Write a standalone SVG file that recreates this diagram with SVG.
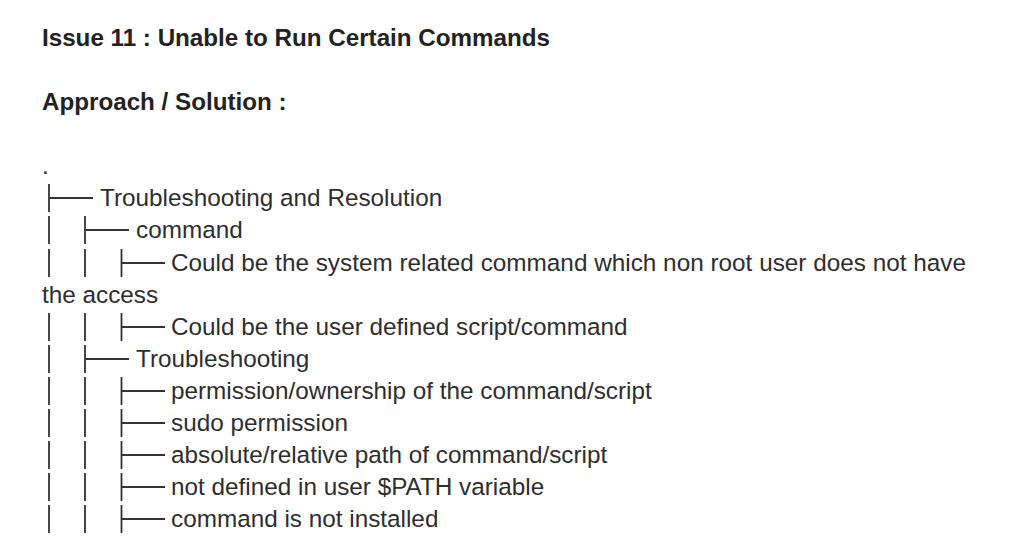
<svg xmlns="http://www.w3.org/2000/svg" width="1024" height="552" viewBox="0 0 1024 552">
<style>
.t{font-family:"Liberation Sans",Arial,sans-serif;font-size:24.3px;fill:#2e2e2e}
.h{font-family:"Liberation Sans",Arial,sans-serif;font-size:24.2px;font-weight:bold;fill:#222}
.c line{stroke:#333;stroke-width:1.8}
</style>
<rect width="1024" height="552" fill="#fff"/>
<g id="header">
<text class="h" x="42" y="46" textLength="508" lengthAdjust="spacing">Issue 11 : Unable to Run Certain Commands</text>
<text class="h" x="42" y="110">Approach / Solution :</text>
</g>
<g id="root"><text class="t" x="42" y="174">.</text></g>
<g id="n1"><text class="t" x="100" y="206">Troubleshooting and Resolution</text></g>
<g id="n2"><text class="t" x="136" y="238">command</text></g>
<g id="n3"><text class="t" x="171" y="271" textLength="795" lengthAdjust="spacing">Could be the system related command which non root user does not have</text>
<text class="t" x="42" y="303">the access</text></g>
<g id="n4"><text class="t" x="171" y="335">Could be the user defined script/command</text></g>
<g id="n5"><text class="t" x="136" y="367">Troubleshooting</text></g>
<g id="n6"><text class="t" x="171" y="399">permission/ownership of the command/script</text></g>
<g id="n7"><text class="t" x="171" y="431">sudo permission</text></g>
<g id="n8"><text class="t" x="171" y="463">absolute/relative path of command/script</text></g>
<g id="n9"><text class="t" x="171" y="495">not defined in user $PATH variable</text></g>
<g id="n10"><text class="t" x="171" y="527">command is not installed</text></g>
<g id="connectors" class="c">
<line x1="49" y1="184" x2="49" y2="212"/><line x1="49" y1="198" x2="93" y2="198"/>
<line x1="49" y1="216" x2="49" y2="244"/><line x1="85" y1="216" x2="85" y2="244"/><line x1="85" y1="230" x2="129" y2="230"/>
<line x1="49" y1="249" x2="49" y2="277"/><line x1="85" y1="249" x2="85" y2="277"/><line x1="121.5" y1="249" x2="121.5" y2="277"/><line x1="121.5" y1="263" x2="165" y2="263"/>
<line x1="49" y1="313" x2="49" y2="341"/><line x1="85" y1="313" x2="85" y2="341"/><line x1="121.5" y1="313" x2="121.5" y2="341"/><line x1="121.5" y1="327" x2="165" y2="327"/>
<line x1="49" y1="345" x2="49" y2="373"/><line x1="85" y1="345" x2="85" y2="373"/><line x1="85" y1="359" x2="129" y2="359"/>
<line x1="49" y1="377" x2="49" y2="405"/><line x1="85" y1="377" x2="85" y2="405"/><line x1="121.5" y1="377" x2="121.5" y2="405"/><line x1="121.5" y1="391" x2="165" y2="391"/>
<line x1="49" y1="409" x2="49" y2="437"/><line x1="85" y1="409" x2="85" y2="437"/><line x1="121.5" y1="409" x2="121.5" y2="437"/><line x1="121.5" y1="423" x2="165" y2="423"/>
<line x1="49" y1="441" x2="49" y2="469"/><line x1="85" y1="441" x2="85" y2="469"/><line x1="121.5" y1="441" x2="121.5" y2="469"/><line x1="121.5" y1="455" x2="165" y2="455"/>
<line x1="49" y1="473" x2="49" y2="501"/><line x1="85" y1="473" x2="85" y2="501"/><line x1="121.5" y1="473" x2="121.5" y2="501"/><line x1="121.5" y1="487" x2="165" y2="487"/>
<line x1="49" y1="505" x2="49" y2="533"/><line x1="85" y1="505" x2="85" y2="533"/><line x1="121.5" y1="505" x2="121.5" y2="533"/><line x1="121.5" y1="519" x2="165" y2="519"/>
</g>
</svg>
